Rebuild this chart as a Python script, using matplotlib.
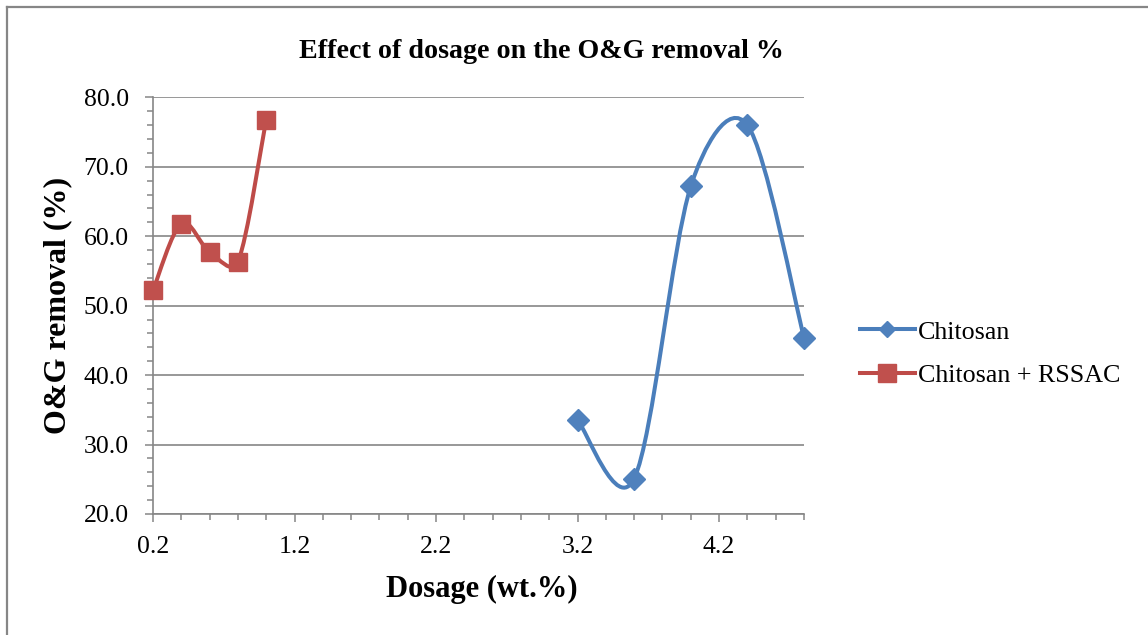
import numpy as np
import matplotlib
matplotlib.use("Agg")
import matplotlib.pyplot as plt
from matplotlib.path import Path
from matplotlib.patches import PathPatch
from matplotlib.lines import Line2D
from matplotlib.ticker import MultipleLocator, FormatStrFormatter

# ---- data ----
chitosan_x = [3.2, 3.6, 4.0, 4.4, 4.8]
chitosan_y = [33.5, 25.1, 67.2, 76.0, 45.4]
rssac_x = [0.2, 0.4, 0.6, 0.8, 1.0]
rssac_y = [52.2, 61.8, 57.7, 56.3, 76.8]
series_names = ["Chitosan", "Chitosan + RSSAC"]
title = "Effect of dosage on the O&G removal %"
xlabel = "Dosage (wt.%)"
ylabel = "O&G removal (%)"

plt.rcParams['font.family'] = ['Liberation Serif', 'DejaVu Serif']

W, H = 1148, 635
fig = plt.figure(figsize=(W / 100, H / 100), dpi=100)
fig.patch.set_facecolor('white')

ax = fig.add_axes([153 / W, 1 - 514 / H, (804 - 153) / W, (514 - 97.3) / H])

GRID = '#868686'
BLUE_L, BLUE_M = '#4A7EBB', '#4F81BD'
RED_L, RED_M = '#BE4B48', '#C0504D'

ax.set_xlim(0.2, 4.8)
ax.set_ylim(20, 80)


def smooth_path(x, y):
    """Excel-like smoothed line: cubic Bezier, tangent (p2-p0)/6 capped at half segment (screen space)."""
    pts = ax.transData.transform(np.column_stack([x, y]).astype(float))
    n = len(pts)
    verts = [pts[0]]
    codes = [Path.MOVETO]
    for i in range(n - 1):
        p0 = pts[i - 1] if i > 0 else pts[i]
        p1 = pts[i]
        p2 = pts[i + 1]
        p3 = pts[i + 2] if i + 2 < n else pts[i + 1]
        d12 = np.hypot(*(p2 - p1))
        d02 = np.hypot(*(p2 - p0))
        d13 = np.hypot(*(p3 - p1))
        f1 = 1 / 6.0 if d02 / 6.0 <= d12 / 2.0 or d02 == 0 else (d12 / 2.0) / d02
        f2 = 1 / 6.0 if d13 / 6.0 <= d12 / 2.0 or d13 == 0 else (d12 / 2.0) / d13
        c1 = p1 + (p2 - p0) * f1
        c2 = p2 - (p3 - p1) * f2
        verts += [c1, c2, p2]
        codes += [Path.CURVE4] * 3
    verts = ax.transData.inverted().transform(np.array(verts))
    return Path(verts, codes)


for xs, ys, lc, mc, mk, ms in [
    (chitosan_x, chitosan_y, BLUE_L, BLUE_M, 'D', 11),
    (rssac_x, rssac_y, RED_L, RED_M, 's', 13.5),
]:
    patch = PathPatch(smooth_path(xs, ys), fill=False, edgecolor=lc, lw=2.9,
                      capstyle='round', joinstyle='round', zorder=3, clip_on=False)
    ax.add_patch(patch)
    ax.plot(xs, ys, linestyle='none', marker=mk, markersize=ms,
            markerfacecolor=mc, markeredgecolor=mc, zorder=4, clip_on=False)

ax.set_xlim(0.2, 4.8)
ax.set_ylim(20, 80)
ax.xaxis.set_major_locator(MultipleLocator(1.0))
ax.xaxis.set_minor_locator(MultipleLocator(0.2))
ax.yaxis.set_major_locator(MultipleLocator(10))
ax.yaxis.set_minor_locator(MultipleLocator(2))
ax.xaxis.set_major_formatter(FormatStrFormatter('%.1f'))
ax.yaxis.set_major_formatter(FormatStrFormatter('%.1f'))
ax.set_xticks(np.arange(0.2, 4.81, 1.0))

ax.grid(axis='y', which='major', color=GRID, lw=1.2, zorder=1)
ax.set_axisbelow(True)
for s in ['top', 'right']:
    ax.spines[s].set_visible(False)
for s in ['left', 'bottom']:
    ax.spines[s].set_color(GRID)
    ax.spines[s].set_linewidth(1.2)

ax.tick_params(axis='both', which='major', direction='out', length=5.5, width=1.1,
               color=GRID, labelsize=18.5, labelcolor='black')
ax.tick_params(axis='both', which='minor', direction='out', length=4, width=1.1, color=GRID)
ax.tick_params(axis='y', which='major', pad=12)
ax.tick_params(axis='x', which='major', pad=10)

# texts
fig.text(541.5 / W, 1 - 58 / H, title, ha='center', va='baseline',
         fontsize=20.2, fontweight='bold')
fig.text(482 / W, 1 - 597 / H, xlabel, ha='center', va='baseline',
         fontsize=22, fontweight='bold')
fig.text(58 / W, 1 - 305.5 / H, ylabel, ha='center', va='center', rotation=90,
         fontsize=23, fontweight='bold')

# legend
handles = [
    Line2D([], [], color=BLUE_L, lw=2.9, marker='D', markersize=8,
           markerfacecolor=BLUE_M, markeredgecolor=BLUE_M),
    Line2D([], [], color=RED_L, lw=2.9, marker='s', markersize=12.5,
           markerfacecolor=RED_M, markeredgecolor=RED_M),
]
fig.legend(handles, series_names, loc='center left',
           bbox_to_anchor=(860 / W, 1 - 353.5 / H), frameon=False,
           fontsize=18.7, handlelength=2.1, handletextpad=0.12,
           borderpad=0, borderaxespad=0, labelspacing=0.77)

# chart border (left and top visible)
fig.add_artist(Line2D([6.5 / W, 6.5 / W], [0, 1 - 7 / H], transform=fig.transFigure,
                      color=GRID, lw=1.6))
fig.add_artist(Line2D([6.5 / W, 1], [1 - 7 / H, 1 - 7 / H], transform=fig.transFigure,
                      color=GRID, lw=1.6))

fig.savefig('out.png', dpi=100, facecolor='white')
